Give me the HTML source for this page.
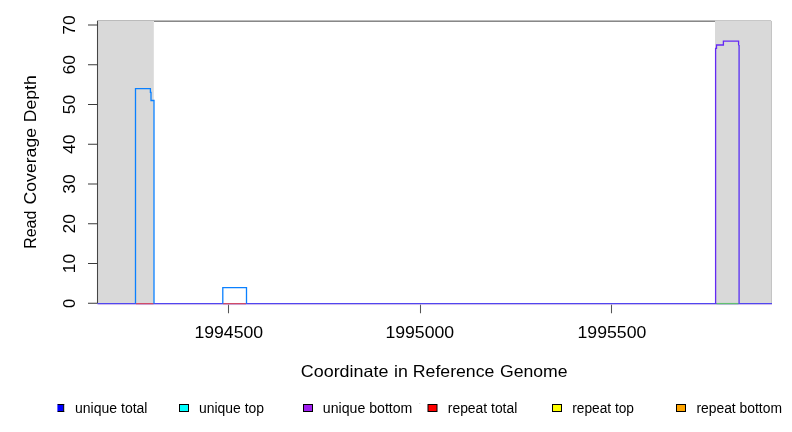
<!DOCTYPE html>
<html><head><meta charset="utf-8"><style>
html,body{margin:0;padding:0;background:#fff;width:792px;height:432px;overflow:hidden}
svg{display:block;will-change:transform}
text{font-family:"Liberation Sans",sans-serif;fill:#000}
</style></head><body>
<svg width="792" height="432" viewBox="0 0 792 432">
<rect x="0" y="0" width="792" height="432" fill="#fff"/>
<!-- top line -->
<rect x="97" y="20" width="674" height="1" fill="#bbbbbb"/>
<rect x="154" y="21" width="561" height="1" fill="#888888"/>
<!-- grey shaded regions -->
<rect x="98" y="21" width="55.8" height="282" fill="#d9d9d9"/>
<rect x="715" y="20.6" width="56.4" height="282.4" fill="#d9d9d9"/>
<rect x="771" y="21" width="1" height="282" fill="#c4c4c4"/>
<!-- y axis -->
<g stroke="#555" stroke-width="1.05" fill="none">
<path d="M97.5 21V303.6" stroke="#454545"/>
<path stroke="#3a3a3a" d="M88 303.30H97.5M88 263.55H97.5M88 223.80H97.5M88 184.05H97.5M88 144.30H97.5M88 104.55H97.5M88 64.80H97.5M88 25.05H97.5"/>
<path d="M228.5 304V313.3M420.5 304V313.3M611.5 304V313.3"/>
</g>
<!-- baseline -->
<g fill="none" stroke-width="1.3">
<path d="M97.5 304.6H772" stroke="#f2dbe6" stroke-width="0.8"/>
<path d="M97.5 303.6H772" stroke="#5046f0"/>
<path d="M136 303.6H153.5M223 303.6H246" stroke="#d04a68"/>
<path d="M716.5 303.6H738.5" stroke="#60c070"/>
</g>
<!-- coverage -->
<g fill="none" stroke-width="1.3" stroke-linejoin="miter">
<path d="M135.5 303.6V88.7H150.4V92.4H151V100.5H154V303.6" stroke="#0a80ff"/>
<path d="M222.8 303.6V287.7H246.5V303.6" stroke="#0a80ff"/>
<path d="M715.6 303.6V48.4H716.5V45H723.4V41.2H738.6V45.5" stroke="#6428f4"/>
<path d="M739.1 45V303.6" stroke="#6a46f0" stroke-width="1.5"/>
</g>
<rect x="419" y="403" width="1.4" height="0.8" fill="#d8d8d8"/>
<!-- y tick labels -->
<g font-size="16.5">
<text transform="translate(75,25.05) rotate(-90)" text-anchor="middle" textLength="19.4" lengthAdjust="spacingAndGlyphs">70</text>
<text transform="translate(75,64.80) rotate(-90)" text-anchor="middle" textLength="19.4" lengthAdjust="spacingAndGlyphs">60</text>
<text transform="translate(75,104.55) rotate(-90)" text-anchor="middle" textLength="19.4" lengthAdjust="spacingAndGlyphs">50</text>
<text transform="translate(75,144.30) rotate(-90)" text-anchor="middle" textLength="19.4" lengthAdjust="spacingAndGlyphs">40</text>
<text transform="translate(75,184.05) rotate(-90)" text-anchor="middle" textLength="19.4" lengthAdjust="spacingAndGlyphs">30</text>
<text transform="translate(75,223.80) rotate(-90)" text-anchor="middle" textLength="19.4" lengthAdjust="spacingAndGlyphs">20</text>
<text transform="translate(75,263.55) rotate(-90)" text-anchor="middle" textLength="19.4" lengthAdjust="spacingAndGlyphs">10</text>
<text transform="translate(75,303.30) rotate(-90)" text-anchor="middle">0</text>
</g>
<!-- y axis title -->
<g font-size="16.5">
<text transform="translate(36.2,248.8) rotate(-90)" textLength="38.2" lengthAdjust="spacingAndGlyphs">Read</text>
<text transform="translate(36.2,204.4) rotate(-90)" textLength="76.4" lengthAdjust="spacingAndGlyphs">Coverage</text>
<text transform="translate(36.2,122.2) rotate(-90)" textLength="46.9" lengthAdjust="spacingAndGlyphs">Depth</text>
</g>
<!-- x tick labels -->
<g font-size="16.5">
<text x="194.4" y="338" textLength="68.8" lengthAdjust="spacingAndGlyphs">1994500</text>
<text x="385.4" y="338" textLength="68.8" lengthAdjust="spacingAndGlyphs">1995000</text>
<text x="577.5" y="338" textLength="68.8" lengthAdjust="spacingAndGlyphs">1995500</text>
</g>
<!-- x axis title -->
<g font-size="16.5">
<text x="300.8" y="377" textLength="87.6" lengthAdjust="spacingAndGlyphs">Coordinate</text>
<text x="394" y="377" textLength="13.8" lengthAdjust="spacingAndGlyphs">in</text>
<text x="412.8" y="377" textLength="81.6" lengthAdjust="spacingAndGlyphs">Reference</text>
<text x="500" y="377" textLength="67.6" lengthAdjust="spacingAndGlyphs">Genome</text>
</g>
<!-- legend -->
<rect x="57.4" y="404" width="6.2" height="8" fill="#0000ff"/>
<path d="M57.8 404.5H64.2M57.8 411.5H64.2M63.7 404V412" stroke="#000" stroke-width="1" fill="none"/>
<g stroke="#000" stroke-width="1">
<rect x="179.5" y="404.5" width="9" height="7" fill="#00ffff"/>
<rect x="303.5" y="404.5" width="9" height="7" fill="#a020f0"/>
<rect x="428" y="404.5" width="9" height="7" fill="#ff0000"/>
<rect x="552.5" y="404.5" width="9" height="7" fill="#ffff00"/>
<rect x="676.5" y="404.5" width="9" height="7" fill="#ffa500"/>
</g>
<g font-size="14">
<text x="75" y="413" textLength="72.5" lengthAdjust="spacingAndGlyphs">unique total</text>
<text x="199" y="413" textLength="65" lengthAdjust="spacingAndGlyphs">unique top</text>
<text x="322.8" y="413" textLength="89.6" lengthAdjust="spacingAndGlyphs">unique bottom</text>
<text x="447.8" y="413" textLength="69.5" lengthAdjust="spacingAndGlyphs">repeat total</text>
<text x="572.2" y="413" textLength="61.8" lengthAdjust="spacingAndGlyphs">repeat top</text>
<text x="696.4" y="413" textLength="85.6" lengthAdjust="spacingAndGlyphs">repeat bottom</text>
</g>
</svg>
</body></html>
